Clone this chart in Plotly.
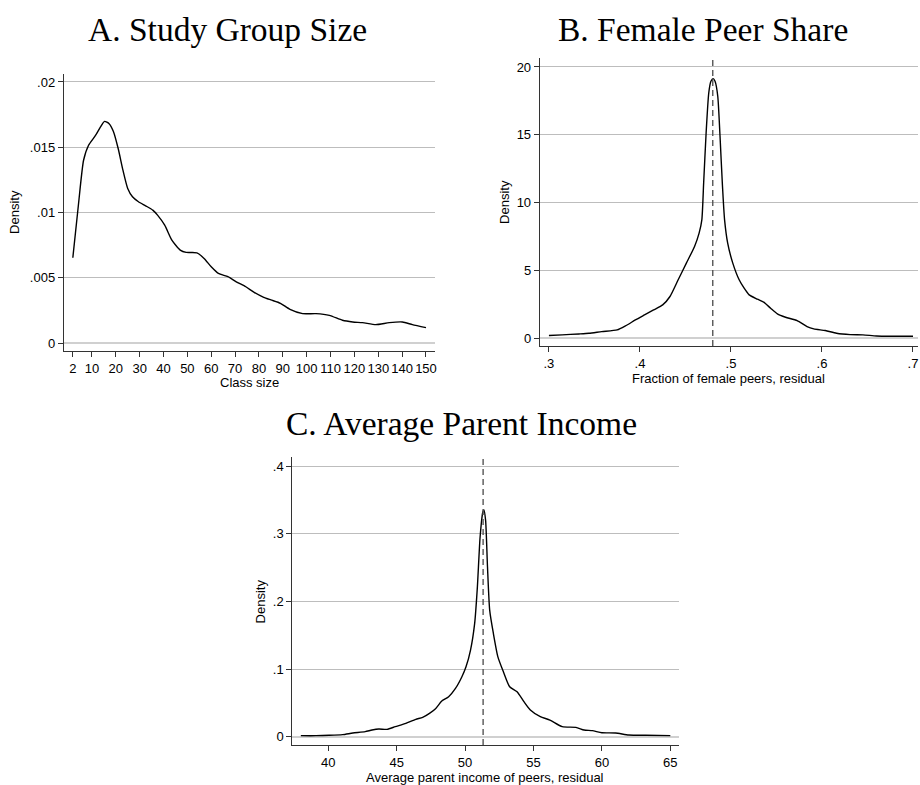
import plotly.graph_objects as go

# ---------------- data ----------------
# Panel A: density of class size
a_x = [2, 4.4, 6.5, 8.6, 11.5, 13.6, 15.3, 17.2, 19, 21, 23, 25, 27, 29.5, 32.5, 35.5, 37.5,
       40.5, 43.5, 47, 49.5, 54, 57, 60, 63, 67, 70.5, 74.5, 78, 82, 85, 89, 93, 98.3,
       103.9, 109.5, 115, 119.3, 123.4, 129, 134.6, 140.1, 144.3, 150]
a_y = [0.00653, 0.01069, 0.0140, 0.01515, 0.0159, 0.01656, 0.01698, 0.0168, 0.0162, 0.0149,
       0.01324, 0.01184, 0.0112, 0.01082, 0.01051, 0.01018, 0.0098, 0.00903, 0.00788, 0.00712,
       0.00694, 0.00691, 0.00648, 0.00584, 0.00533, 0.00508, 0.00469, 0.00431, 0.00388, 0.0035,
       0.0033, 0.00304, 0.00258, 0.00225, 0.00225, 0.00212, 0.00174, 0.00161, 0.00156, 0.00141,
       0.00156, 0.00161, 0.00141, 0.00118]

# Panel B: density of female peer share residual
b_x = [0.300, 0.3145, 0.333, 0.344, 0.358, 0.375, 0.384, 0.395, 0.405, 0.415, 0.425, 0.433,
       0.442, 0.451, 0.460, 0.465, 0.468, 0.470, 0.4727, 0.4756, 0.478, 0.4804, 0.4825, 0.4855,
       0.488, 0.4905, 0.493, 0.4964, 0.502, 0.509, 0.5145, 0.520, 0.529, 0.536, 0.5436, 0.551,
       0.560, 0.5727, 0.5836, 0.591, 0.6036, 0.616, 0.631, 0.645, 0.660, 0.6745, 0.700]
b_y = [0.20, 0.25, 0.32, 0.37, 0.49, 0.62, 0.91, 1.35, 1.72, 2.09, 2.46, 3.08, 4.31, 5.54,
       6.77, 7.75, 8.73, 11.44, 15.13, 18.08, 18.94, 19.14, 18.94, 17.84, 14.88, 11.44, 8.73,
       7.01, 5.54, 4.31, 3.69, 3.20, 2.88, 2.66, 2.21, 1.80, 1.55, 1.30, 0.86, 0.69, 0.57, 0.37,
       0.27, 0.25, 0.17, 0.15, 0.15]
b_center = 0.48

# Panel C: density of average parent income residual
c_x = [38.0, 39.1, 40.07, 41.05, 41.8, 42.7, 43.2, 43.7, 44.3, 44.9, 45.67, 46.4, 46.9, 47.4,
       47.86, 48.3, 48.8, 49.3, 49.77, 50.07, 50.4, 50.7, 50.9, 51.1, 51.3, 51.37, 51.5, 51.64,
       51.8, 52.07, 52.4, 52.8, 53.26, 53.8, 54.3, 54.77, 55.5, 56.2, 57.1, 58.1, 58.7, 59.3,
       60.0, 61.0, 61.97, 63.2, 65.0]
c_y = [0.0015, 0.0015, 0.002, 0.003, 0.0054, 0.0074, 0.0098, 0.0113, 0.0108, 0.0148, 0.0197,
       0.0256, 0.0285, 0.0344, 0.0418, 0.0526, 0.059, 0.0713, 0.0886, 0.1033, 0.128, 0.167,
       0.221, 0.295, 0.332, 0.3355, 0.32, 0.251, 0.187, 0.1525, 0.118, 0.096, 0.0738, 0.0664,
       0.0517, 0.0394, 0.0295, 0.0246, 0.0148, 0.0138, 0.0098, 0.0089, 0.0059, 0.0054, 0.0025,
       0.002, 0.0015]
c_center = 51.32

# tick labels
a_xticks = [2, 10, 20, 30, 40, 50, 60, 70, 80, 90, 100, 110, 120, 130, 140, 150]
a_yticks = [0, 0.005, 0.01, 0.015, 0.02]
a_ytext = ["0", ".005", ".01", ".015", ".02"]
b_xticks = [0.3, 0.4, 0.5, 0.6, 0.7]
b_xtext = [".3", ".4", ".5", ".6", ".7"]
b_yticks = [0, 5, 10, 15, 20]
b_ytext = ["0", "5", "10", "15", "20"]
c_xticks = [40, 45, 50, 55, 60, 65]
c_yticks = [0, 0.1, 0.2, 0.3, 0.4]
c_ytext = ["0", ".1", ".2", ".3", ".4"]

titles = ["A. Study Group Size", "B. Female Peer Share", "C. Average Parent Income"]
xtitles = ["Class size", "Fraction of female peers, residual",
           "Average parent income of peers, residual"]

# ---------------- figure ----------------
W, H = 920, 785
fig = go.Figure()

line = dict(color="black", width=1.4, shape="spline", smoothing=0.6)
fig.add_trace(go.Scatter(x=a_x, y=a_y, mode="lines", line=line, xaxis="x", yaxis="y",
                         hoverinfo="skip"))
fig.add_trace(go.Scatter(x=b_x, y=b_y, mode="lines", line=line, xaxis="x2", yaxis="y2",
                         hoverinfo="skip"))
fig.add_trace(go.Scatter(x=c_x, y=c_y, mode="lines", line=line, xaxis="x3", yaxis="y3",
                         hoverinfo="skip"))

dash = dict(color="#555555", width=1.4, dash="6px,4px")
fig.add_shape(type="line", xref="x2", yref="y2 domain", x0=b_center, x1=b_center, y0=0, y1=1,
              line=dash)
fig.add_shape(type="line", xref="x3", yref="y3 domain", x0=c_center, x1=c_center, y0=0, y1=1,
              line=dash)

tickfont = dict(family="Liberation Sans, Arial, sans-serif", size=13, color="black")


def px_dom(a, b, total, flip=False):
    if flip:
        return [1 - b / total, 1 - a / total]
    return [a / total, b / total]


common_x = dict(showline=True, linecolor="#333333", linewidth=1.2, ticks="outside", ticklen=5,
                tickcolor="#333333", tickwidth=1.1, showgrid=False, zeroline=False,
                tickfont=tickfont)
common_y = dict(showline=True, linecolor="#333333", linewidth=1.2, ticks="outside", ticklen=5,
                tickcolor="#333333", tickwidth=1.1, showgrid=True, gridcolor="#bdbdbd",
                gridwidth=1.2, zeroline=True, zerolinecolor="#d0d0d0", zerolinewidth=2,
                tickfont=tickfont, tickangle=0)

fig.update_layout(
    width=W, height=H,
    margin=dict(l=0, r=0, t=0, b=0),
    paper_bgcolor="white", plot_bgcolor="white",
    showlegend=False,
    xaxis=dict(domain=px_dom(64, 436, W), range=[-1.76, 153.8], tickvals=a_xticks,
               anchor="y", **common_x),
    yaxis=dict(domain=px_dom(74, 351, H, True), range=[-0.000613, 0.02061], tickvals=a_yticks,
               ticktext=a_ytext, anchor="x", **common_y),
    xaxis2=dict(domain=px_dom(541, 920, W), range=[0.290, 0.7055], tickvals=b_xticks,
                ticktext=b_xtext, anchor="y2", **common_x),
    yaxis2=dict(domain=px_dom(58, 346, H, True), range=[-0.57, 20.66], tickvals=b_yticks,
                ticktext=b_ytext, anchor="x2", **common_y),
    xaxis3=dict(domain=px_dom(293, 680, W), range=[37.38, 65.6], tickvals=c_xticks,
                anchor="y3", **common_x),
    yaxis3=dict(domain=px_dom(457, 745, H, True), range=[-0.0123, 0.4133], tickvals=c_yticks,
                ticktext=c_ytext, anchor="x3", **common_y),
)

title_font = dict(family="Liberation Serif, Times New Roman, serif", size=33.5, color="black")
label_font = dict(family="Liberation Sans, Arial, sans-serif", size=13, color="black")

# panel titles (x center px, y center px)
title_pos = [(228, 30), (705, 30), (463, 423)]
for t, (cx, cy) in zip(titles, title_pos):
    fig.add_annotation(text=t, x=cx / W, y=1 - cy / H, xref="paper", yref="paper",
                       showarrow=False, font=title_font, xanchor="center", yanchor="middle")

# x axis titles
xt_pos = [(250, 382), (730, 378), (486, 777)]
for t, (cx, cy) in zip(xtitles, xt_pos):
    fig.add_annotation(text=t, x=cx / W, y=1 - cy / H, xref="paper", yref="paper",
                       showarrow=False, font=label_font, xanchor="center", yanchor="middle")

# y axis titles
yt_pos = [(15, 212), (506, 202), (261, 601)]
for cx, cy in yt_pos:
    fig.add_annotation(text="Density", x=cx / W, y=1 - cy / H, xref="paper", yref="paper",
                       showarrow=False, font=label_font, textangle=-90,
                       xanchor="center", yanchor="middle")

fig.write_html("out.html")
